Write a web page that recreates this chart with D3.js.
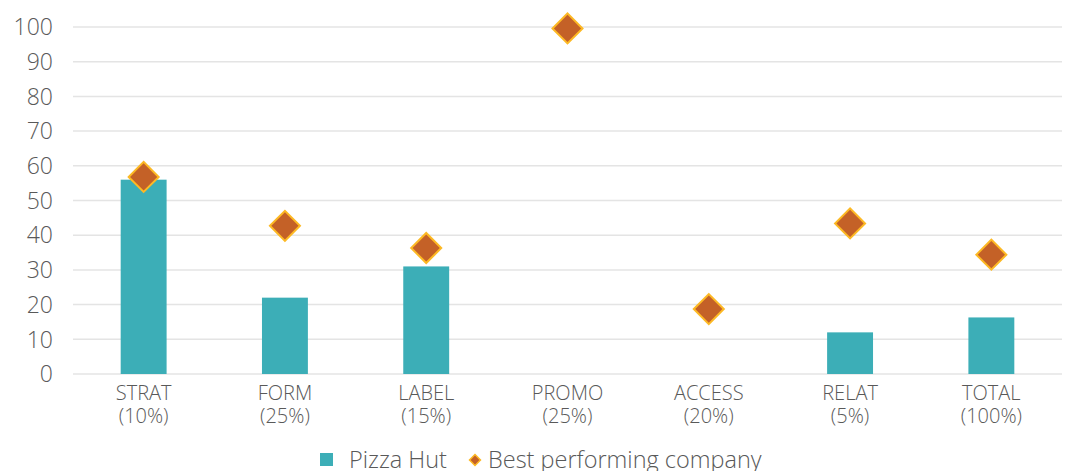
<!DOCTYPE html>
<html>
<head>
<meta charset="utf-8">
<script src="https://cdn.jsdelivr.net/npm/d3@7"></script>
<style>
  body { margin: 0; background: #fff; }
  text { font-family: "Open Sans", sans-serif; font-weight: 300; fill: #595959; }
</style>
</head>
<body>
<svg width="1065" height="471"></svg>
<script>
// Category labels (two lines each) and the two series.
var categories = ["STRAT", "FORM", "LABEL", "PROMO", "ACCESS", "RELAT", "TOTAL"];
var weights = ["(10%)", "(25%)", "(15%)", "(25%)", "(20%)", "(5%)", "(100%)"];
var pizzaHut = [56, 22, 31, 0, 0, 12, 16.3];
var bestCompany = [56.8, 42.7, 36.3, 99.6, 18.7, 43.4, 34.4];
var yTicks = [0, 10, 20, 30, 40, 50, 60, 70, 80, 90, 100];

var svg = d3.select("svg");
var plotLeft = 73, plotRight = 1062, plotTop = 27, plotBottom = 374;

var x = d3.scaleBand().domain(categories).range([plotLeft, plotRight]).paddingInner(0).paddingOuter(0);
var y = d3.scaleLinear().domain([0, 100]).range([plotBottom, plotTop]);

// Gridlines.
svg.append("g").selectAll("line").data(yTicks).join("line")
    .attr("x1", plotLeft).attr("x2", plotRight)
    .attr("y1", d => y(d)).attr("y2", d => y(d))
    .attr("stroke", "#e4e4e4").attr("stroke-width", 1.5);

// Y axis labels.
svg.append("g").selectAll("text").data(yTicks).join("text")
    .attr("x", 53).attr("y", d => y(d))
    .attr("dy", "0.36em")
    .attr("text-anchor", "end")
    .attr("font-size", 23)
    .text(d => d);

// Bars.
var barW = x.bandwidth() * 0.325;
svg.append("g").selectAll("rect").data(pizzaHut).join("rect")
    .attr("x", (d, i) => x(categories[i]) + x.bandwidth() / 2 - barW / 2)
    .attr("y", d => y(d))
    .attr("width", barW)
    .attr("height", d => y(0) - y(d))
    .attr("fill", "#3caeb7");

// Diamonds.
var diamond = d3.symbol().type(d3.symbolSquare).size(450);
svg.append("g").selectAll("path").data(bestCompany).join("path")
    .attr("d", diamond)
    .attr("transform", (d, i) => "translate(" + (x(categories[i]) + x.bandwidth() / 2) + "," + y(d) + ") rotate(45)")
    .attr("fill", "#c46127")
    .attr("stroke", "#fdb924")
    .attr("stroke-width", 2);

// X axis labels.
var xl = svg.append("g").selectAll("text").data(categories).join("text")
    .attr("x", d => x(d) + x.bandwidth() / 2)
    .attr("y", 400)
    .attr("text-anchor", "middle")
    .attr("font-size", 20);
xl.append("tspan").text(d => d);
xl.append("tspan")
    .attr("x", d => x(d) + x.bandwidth() / 2)
    .attr("dy", 23)
    .text((d, i) => weights[i]);

// Legend.
var leg = svg.append("g");
leg.append("rect").attr("x", 320).attr("y", 453).attr("width", 13).attr("height", 13).attr("fill", "#3caeb7");
leg.append("text").attr("x", 349).attr("y", 468).attr("font-size", 23.5).text("Pizza Hut");
leg.append("path")
    .attr("d", d3.symbol().type(d3.symbolSquare).size(60))
    .attr("transform", "translate(475,460) rotate(45)")
    .attr("fill", "#c46127").attr("stroke", "#fdb924").attr("stroke-width", 1.5);
leg.append("text").attr("x", 488).attr("y", 468).attr("font-size", 23.5).text("Best performing company");
</script>
</body>
</html>
